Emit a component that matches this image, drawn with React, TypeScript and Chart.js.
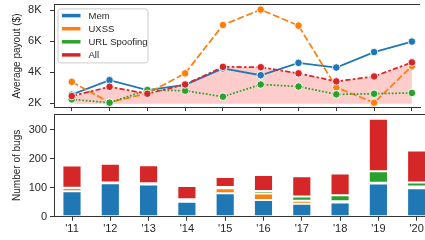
import React, { useEffect, useRef } from 'react';
import { Chart, registerables } from 'chart.js';

Chart.register(...registerables);

// ---------- data ----------
const years = ["'11", "'12", "'13", "'14", "'15", "'16", "'17", "'18", "'19", "'20"];
const seriesNames = ['Mem', 'UXSS', 'URL Spoofing', 'All'];

const payoutMem = [2540, 3480, 2840, 3180, 4240, 3800, 4600, 4300, 5300, 5980];
const payoutUxss = [3370, 2040, 2630, 3920, 7050, 8050, 7010, 3010, 2020, 4390];
const payoutUrl = [2240, 2020, 2840, 2800, 2410, 3200, 3070, 2560, 2600, 2650];
const payoutAll = [2450, 3050, 2600, 3200, 4340, 4320, 3920, 3400, 3720, 4630];

const bugsMem = [88, 116, 111, 52, 81, 58, 45, 49, 115, 98];
const bugsUxss = [11, 1, 3, 4, 17, 22, 10, 4, 2, 6];
const bugsUrl = [1, 1, 2, 4, 5, 9, 15, 21, 40, 14];
const bugsOther = [77, 65, 62, 46, 34, 55, 70, 75, 182, 111];

const payoutTicks = [2000, 4000, 6000, 8000];
const bugTicks = [0, 100, 200, 300];

// ---------- styles ----------
const COLORS = ['#1f77b4', '#ff7f0e', '#2ca02c', '#d62728'];
const AXIS = '#333333';
const TEXT = '#262626';
const FONT = "'Liberation Sans', Arial, sans-serif";

Chart.defaults.font.family = FONT;
Chart.defaults.color = TEXT;

const toXY = (arr: number[]) => arr.map((v, i) => ({ x: i, y: v }));

const X_MIN = -0.47;
const X_MAX = 9.217;

const framePlugin = {
  id: 'frameAndLegend',
  afterDatasetsDraw(chart: any, _args: any, opts: any) {
    const { ctx, chartArea } = chart;
    ctx.save();
    ctx.strokeStyle = AXIS;
    ctx.lineWidth = 1;
    const ty = Math.floor(chartArea.top) + 0.5;
    ctx.beginPath();
    ctx.moveTo(chartArea.left, ty);
    ctx.lineTo(chartArea.right, ty);
    ctx.stroke();

    if (opts && opts.legend) {
      const x0 = chartArea.left + 4;
      const y0 = chartArea.top + 4;
      const w = 90;
      const h = 54;
      ctx.beginPath();
      if ((ctx as any).roundRect) (ctx as any).roundRect(x0, y0, w, h, 2.5);
      else ctx.rect(x0, y0, w, h);
      ctx.fillStyle = 'rgba(255,255,255,0.8)';
      ctx.fill();
      ctx.strokeStyle = '#cccccc';
      ctx.lineWidth = 1;
      ctx.stroke();
      ctx.font = `9.5px ${FONT}`;
      ctx.textBaseline = 'middle';
      ctx.textAlign = 'left';
      seriesNames.forEach((name, i) => {
        const yy = y0 + 6.7 + i * 13.1;
        ctx.beginPath();
        ctx.strokeStyle = COLORS[i];
        ctx.lineWidth = 3.5;
        ctx.setLineDash([]);
        ctx.moveTo(x0 + 4, yy);
        ctx.lineTo(x0 + 22.5, yy);
        ctx.stroke();
        ctx.fillStyle = TEXT;
        ctx.fillText(name, x0 + 30.5, yy + 0.5);
      });
    }
    ctx.restore();
  },
};

function xScale(showLabels: boolean, height: number) {
  return {
    type: 'linear' as const,
    min: X_MIN,
    max: X_MAX,
    offset: false,
    stacked: true,
    afterBuildTicks: (scale: any) => {
      scale.ticks = years.map((_, i) => ({ value: i }));
    },
    afterFit: (scale: any) => {
      scale.height = height;
      scale.paddingLeft = 0;
      scale.paddingRight = 0;
    },
    grid: {
      offset: false,
      drawOnChartArea: false,
      drawTicks: true,
      tickLength: 4,
      tickColor: AXIS,
      tickWidth: 1,
    },
    border: { display: true, color: AXIS, width: 1 },
    ticks: {
      display: showLabels,
      autoSkip: false,
      maxRotation: 0,
      padding: 1.5,
      font: { size: 11 },
      color: TEXT,
      callback: (_v: any, i: number) => years[i],
    },
  };
}

function yScale(min: number, max: number, ticks: number[], title: string, fmt: (v: number) => string, pad: number, stacked: boolean) {
  return {
    type: 'linear' as const,
    min,
    max,
    stacked,
    afterBuildTicks: (scale: any) => {
      scale.ticks = ticks.map((v) => ({ value: v }));
    },
    afterFit: (scale: any) => {
      scale.width = 54;
      scale.paddingTop = 0;
      scale.paddingBottom = 0;
    },
    grid: {
      drawOnChartArea: false,
      drawTicks: true,
      tickLength: 4,
      tickColor: AXIS,
      tickWidth: 1,
    },
    border: { display: true, color: AXIS, width: 1 },
    ticks: {
      padding: pad,
      font: { size: 11 },
      color: TEXT,
      callback: (v: any) => fmt(Number(v)),
    },
    title: {
      display: true,
      text: title,
      font: { size: 10 },
      color: TEXT,
      padding: { top: 11, bottom: 0 },
    },
  };
}

export default function App() {
  const topRef = useRef<HTMLCanvasElement>(null);
  const botRef = useRef<HTMLCanvasElement>(null);

  useEffect(() => {
    const dashes = [[], [7, 2.6], [1.75, 1.75], [5.25, 2.2, 2.6, 2.2]];
    const payouts = [payoutMem, payoutUxss, payoutUrl, payoutAll];
    const lineSets = payouts.map((arr, i) => ({
      label: seriesNames[i],
      data: toXY(arr),
      borderColor: COLORS[i],
      backgroundColor: i === 3 ? 'rgba(255,0,0,0.2)' : COLORS[i],
      borderWidth: 1.75,
      borderDash: dashes[i],
      pointRadius: 3.8,
      pointBackgroundColor: COLORS[i],
      pointBorderColor: '#ffffff',
      pointBorderWidth: 0.9,
      tension: 0,
      fill: i === 3 ? { value: 1960 } : false,
      order: 4 - i,
    }));

    const top = new Chart(topRef.current!, {
      type: 'line',
      data: { datasets: lineSets as any },
      options: {
        responsive: false,
        animation: false,
        devicePixelRatio: 1,
        events: [],
        layout: { padding: { top: 4.5, left: 0, right: 0, bottom: 0 } },
        plugins: {
          legend: { display: false },
          tooltip: { enabled: false },
          filler: { drawTime: 'beforeDatasetsDraw' },
          frameAndLegend: { legend: true },
        } as any,
        scales: {
          x: xScale(false, 5) as any,
          y: yScale(1742, 8355, payoutTicks, 'Average payout ($)', (v) => v / 1000 + 'K', 8.5, false) as any,
        },
      },
      plugins: [framePlugin],
    });

    const bugs = [bugsMem, bugsUxss, bugsUrl, bugsOther];
    const barSets = bugs.map((arr, i) => ({
      label: seriesNames[i],
      data: toXY(arr),
      backgroundColor: COLORS[i],
      borderColor: '#ffffff',
      borderWidth: 1,
      borderSkipped: false,
      barPercentage: 0.5,
      categoryPercentage: 1,
    }));

    const bot = new Chart(botRef.current!, {
      type: 'bar',
      data: { datasets: barSets as any },
      options: {
        responsive: false,
        animation: false,
        devicePixelRatio: 1,
        events: [],
        layout: { padding: { top: 2, left: 0, right: 0, bottom: 0 } },
        plugins: {
          legend: { display: false },
          tooltip: { enabled: false },
          frameAndLegend: { legend: false },
        } as any,
        scales: {
          x: xScale(true, 23.3) as any,
          y: yScale(0, 355, bugTicks, 'Number of bugs', (v) => String(v), 3, true) as any,
        },
      },
      plugins: [framePlugin],
    });

    return () => {
      top.destroy();
      bot.destroy();
    };
  }, []);

  return (
    <div
      style={{
        position: 'fixed',
        left: 0,
        top: 0,
        width: 425,
        height: 240,
        overflow: 'hidden',
        background: '#ffffff',
      }}
    >
      <canvas ref={topRef} width={425} height={112} style={{ position: 'absolute', left: 0, top: 0, width: 425, height: 112 }} />
      <canvas ref={botRef} width={425} height={128} style={{ position: 'absolute', left: 0, top: 112, width: 425, height: 128 }} />
    </div>
  );
}
